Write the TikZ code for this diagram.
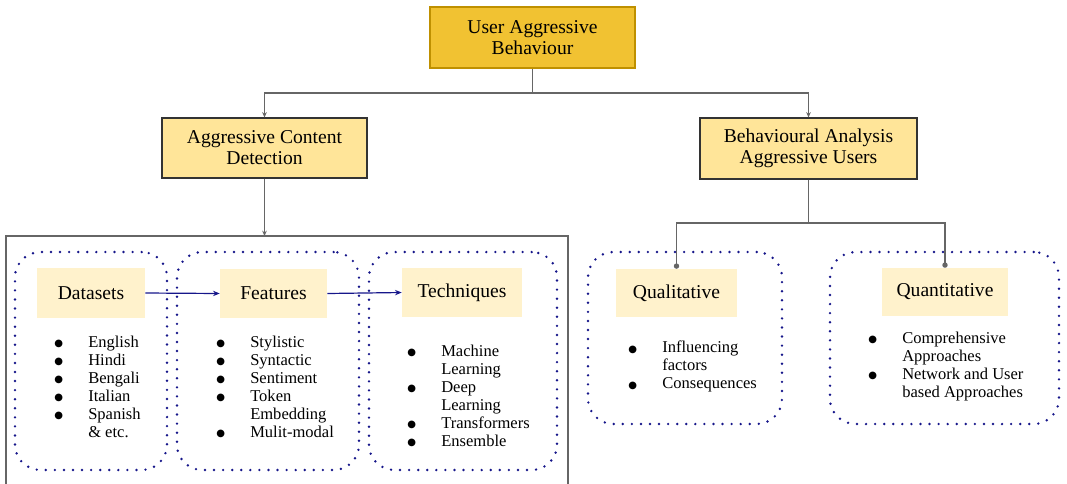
\documentclass[tikz,border=0pt]{standalone}
\usepackage{fontspec}
\setmainfont{Liberation Serif}
\newfontfamily\symf{DejaVu Sans}
\usetikzlibrary{arrows.meta}
\definecolor{topfill}{HTML}{F1C232}
\definecolor{topdraw}{HTML}{BF9000}
\definecolor{midfill}{HTML}{FFE599}
\definecolor{labfill}{HTML}{FFF2CC}
\definecolor{navyc}{HTML}{16168A}
\definecolor{connc}{HTML}{666666}
\newcommand{\bul}{\makebox[25.5pt][l]{\raisebox{0.6pt}{\symf\fontsize{7.5}{7.5}\selectfont ●}}}
\newcommand{\nob}{\hspace*{25.5pt}}
\tikzset{
  titlefont/.style={font=\rmfamily\fontsize{14.7}{15.75}\selectfont},
  listfont/.style={font=\rmfamily\fontsize{12.4}{13.5}\selectfont},
  topbox/.style={draw=topdraw, line width=1.2pt, fill=topfill, align=center, titlefont, inner sep=0pt},
  midbox/.style={draw=black!80, line width=0.8pt, fill=midfill, align=center, titlefont, inner sep=0pt},
  labbox/.style={fill=labfill, align=center, titlefont, inner sep=0pt},
  grp/.style={draw=navyc, line width=2pt, dash pattern=on 0pt off 6.8pt, line cap=round, rounded corners=19pt, inner sep=0pt},
  listnode/.style={anchor=north west, align=left, listfont, inner sep=0pt},
  conn/.style={draw=connc, line width=0.9pt},
  navyarrow/.style={draw=navyc, line width=0.9pt, -{Stealth[length=5pt,width=4pt]}},
}
\begin{document}
\begin{tikzpicture}[x=0.75pt,y=-0.75pt]
\useasboundingbox (0,0) rectangle (1067,483);
% outer rectangle
\draw[draw=black!60, line width=0.8pt] (6,236) rectangle (568,500);
\coordinate (otop) at (266,236);
% main boxes
\node[topbox, minimum width=153.75pt, minimum height=45.75pt] (top) at (532.5,37.5) {User Aggressive\\Behaviour};
\node[midbox, minimum width=153.75pt, minimum height=45pt] (acd) at (264.5,148) {Aggressive Content\\Detection};
\node[midbox, minimum width=162.75pt, minimum height=45.75pt] (baa) at (808.5,148.5) {Behavioural Analysis\\Aggressive Users};
% dotted groups
\node[grp, minimum width=114pt, minimum height=163.5pt] (g1) at (91,361) {};
\node[grp, minimum width=136.5pt, minimum height=163.5pt] (g2) at (268,361) {};
\node[grp, minimum width=141pt, minimum height=163.5pt] (g3) at (463,361) {};
\node[grp, minimum width=145.5pt, minimum height=129pt] (q1) at (685,338) {};
\node[grp, minimum width=171.75pt, minimum height=129pt] (q2) at (944.5,338) {};
% labels
\node[labbox, minimum width=81pt, minimum height=37.5pt] (ds) at (91,293) {Datasets};
\node[labbox, minimum width=80.25pt, minimum height=36.75pt] (ft) at (273.5,293.5) {Features};
\node[labbox, minimum width=90pt, minimum height=36.75pt] (tq) at (462,292.5) {Techniques};
\node[labbox, minimum width=90.75pt, minimum height=36pt] (ql) at (676.5,293) {Qualitative};
\node[labbox, minimum width=94.5pt, minimum height=36pt] (qn) at (945,292) {Quantitative};
% lists
\node[listnode] (l1) at (54,336) {\bul English\\\bul Hindi\\\bul Bengali\\\bul Italian\\\bul Spanish\\\nob \& etc.};
\node[listnode] (l2) at (216,336) {\bul Stylistic\\\bul Syntactic\\\bul Sentiment\\\bul Token\\\nob Embedding\\\bul Mulit-modal};
\node[listnode] (l3) at (407,345) {\bul Machine\\\nob Learning\\\bul Deep\\\nob Learning\\\bul Transformers\\\bul Ensemble};
\node[listnode] (l4) at (628,341) {\bul Influencing\\\nob factors\\\bul Consequences};
\node[listnode] (l5) at (868,332) {\bul Comprehensive\\\nob Approaches\\\bul Network and User\\\nob based Approaches};
% connectors
\coordinate (j1) at (532.5,93);
\draw[conn, -{Stealth[length=4pt,width=3.5pt]}] (top.south) -- (j1) -| (acd.north);
\draw[conn, -{Stealth[length=4pt,width=3.5pt]}] (top.south) -- (j1) -| (baa.north);
\draw[conn, -{Stealth[length=4pt,width=3.5pt]}] (acd.south) -- (acd.south |- otop);
\coordinate (j2) at (808.5,223);
\draw[conn, -{Circle[length=4pt]}] (baa.south) -- (j2) -| (ql.north);
\draw[conn, -{Circle[length=4pt]}] (baa.south) -- (j2) -| (qn.north);
\draw[navyarrow] (ds.east) -- (ft.west);
\draw[navyarrow] (ft.east) -- (tq.west);
\end{tikzpicture}
\end{document}
